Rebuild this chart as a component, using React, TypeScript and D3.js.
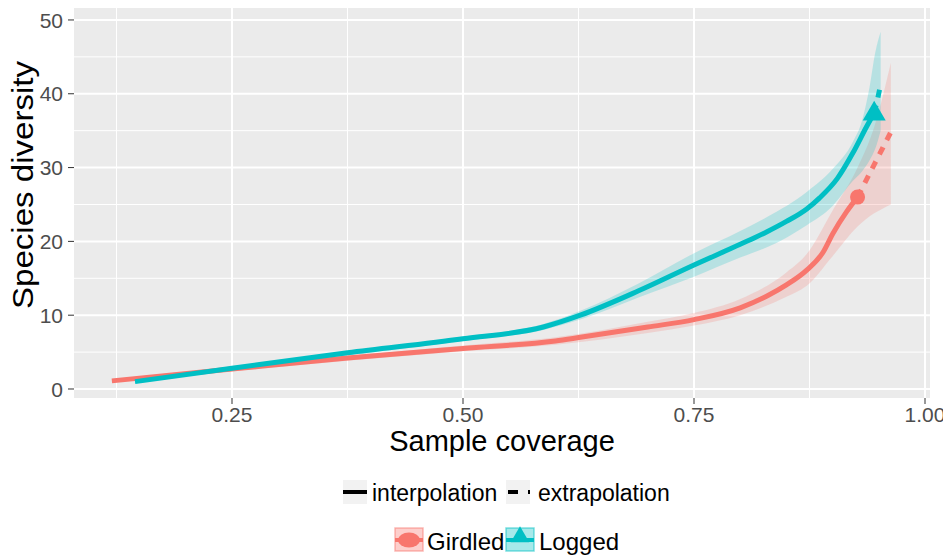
import * as d3 from "d3";
import React from "react";

// Girdled (interpolated, extrapolated, confidence band)
const girdledCov = [0.12, 0.25, 0.375, 0.5, 0.6, 0.627, 0.7, 0.75, 0.8, 0.829, 0.85, 0.872, 0.89, 0.9, 0.915, 0.927];
const girdledDiv = [1.1, 2.7, 4.2, 5.5, 6.5, 7.0, 8.4, 9.4, 11.0, 12.6, 14.1, 16.1, 18.6, 21.0, 24.0, 26.0];
const girdledExtCov = [0.927, 0.945, 0.963];
const girdledExtDiv = [26.0, 30.4, 34.8];
const girdledBandCov = [0.12, 0.25, 0.5, 0.6, 0.7, 0.75, 0.8, 0.85, 0.872, 0.9, 0.927, 0.945, 0.955, 0.963];
const girdledLow = [0.9, 2.4, 5.1, 6.0, 7.6, 8.6, 10.0, 12.5, 14.0, 18.0, 22.0, 23.8, 24.5, 25.0];
const girdledHigh = [1.3, 3.0, 5.9, 7.0, 9.1, 10.3, 12.2, 15.8, 18.3, 24.2, 30.0, 35.5, 40.0, 44.2];

// Logged
const loggedCov = [0.145, 0.25, 0.375, 0.5, 0.587, 0.627, 0.69, 0.75, 0.8, 0.829, 0.85, 0.872, 0.886, 0.905, 0.922, 0.937, 0.945];
const loggedDiv = [1.0, 2.8, 4.9, 6.8, 8.4, 10.0, 13.3, 16.8, 19.6, 21.3, 22.7, 24.4, 25.9, 28.5, 32.0, 35.6, 37.4];
const loggedExtCov = [0.945, 0.949, 0.952];
const loggedExtDiv = [37.4, 39.5, 41.3];
const loggedBandCov = [0.145, 0.25, 0.5, 0.587, 0.627, 0.69, 0.75, 0.8, 0.829, 0.872, 0.9, 0.922, 0.932, 0.94, 0.946, 0.952];
const loggedLow = [0.8, 2.6, 6.5, 8.0, 9.4, 12.4, 15.2, 17.8, 19.2, 22.2, 24.8, 28.2, 29.5, 31.0, 32.5, 35.0];
const loggedHigh = [1.2, 3.0, 7.1, 8.8, 10.6, 14.3, 18.4, 21.4, 23.3, 26.7, 29.8, 33.5, 36.4, 40.9, 45.5, 48.4];

const xMajor = [0.25, 0.5, 0.75, 1.0];
const xLabels = ["0.25", "0.50", "0.75", "1.00"];
const xMinor = [0.125, 0.375, 0.625, 0.875];
const yMajor = [0, 10, 20, 30, 40, 50];
const yMinor = [5, 15, 25, 35, 45];

const RED = "#F8766D";
const TEAL = "#00BFC4";
const FONT = "'Liberation Sans', Arial, Helvetica, sans-serif";

const zip = (xs: number[], ys: number[]) => xs.map((x, i) => [x, ys[i]] as [number, number]);

export default function App() {
  const panel = { left: 74, right: 930, top: 8, bottom: 398 };
  const x = d3.scaleLinear().domain([0.079, 1.0054]).range([panel.left, panel.right]);
  const y = d3.scaleLinear().domain([-1.22, 51.62]).range([panel.bottom, panel.top]);

  const line = d3
    .line<[number, number]>()
    .x((d) => x(d[0]))
    .y((d) => y(d[1]))
    .curve(d3.curveMonotoneX);

  const area = d3
    .area<[number, number, number]>()
    .x((d) => x(d[0]))
    .y0((d) => y(d[1]))
    .y1((d) => y(d[2]))
    .curve(d3.curveMonotoneX);

  const band = (c: number[], lo: number[], hi: number[]) =>
    c.map((v, i) => [v, lo[i], hi[i]] as [number, number, number]);

  const lastG = [girdledCov[girdledCov.length - 1], girdledDiv[girdledDiv.length - 1]];
  const lastL = [loggedCov[loggedCov.length - 1], loggedDiv[loggedDiv.length - 1]];
  const tri = d3.symbol().type(d3.symbolTriangle).size(230)();
  const triKey = d3.symbol().type(d3.symbolTriangle).size(150)();

  return (
    <svg width={943} height={559} style={{ position: "absolute", left: 0, top: 0, background: "#fff" }} fontFamily={FONT}>
      <defs>
        <clipPath id="panel">
          <rect x={panel.left} y={panel.top} width={panel.right - panel.left} height={panel.bottom - panel.top} />
        </clipPath>
      </defs>
      <rect x={panel.left} y={panel.top} width={panel.right - panel.left} height={panel.bottom - panel.top} fill="#EBEBEB" />
      {xMinor.map((v) => (
        <line key={"xm" + v} x1={x(v)} x2={x(v)} y1={panel.top} y2={panel.bottom} stroke="#fff" strokeWidth={1} />
      ))}
      {yMinor.map((v) => (
        <line key={"ym" + v} y1={y(v)} y2={y(v)} x1={panel.left} x2={panel.right} stroke="#fff" strokeWidth={1} />
      ))}
      {xMajor.map((v) => (
        <line key={"xM" + v} x1={x(v)} x2={x(v)} y1={panel.top} y2={panel.bottom} stroke="#fff" strokeWidth={2} />
      ))}
      {yMajor.map((v) => (
        <line key={"yM" + v} y1={y(v)} y2={y(v)} x1={panel.left} x2={panel.right} stroke="#fff" strokeWidth={2} />
      ))}

      <g clipPath="url(#panel)">
        <path d={area(band(girdledBandCov, girdledLow, girdledHigh)) || ""} fill={RED} fillOpacity={0.22} />
        <path d={area(band(loggedBandCov, loggedLow, loggedHigh)) || ""} fill={TEAL} fillOpacity={0.22} />
        <path d={line(zip(girdledCov, girdledDiv)) || ""} fill="none" stroke={RED} strokeWidth={5} strokeLinejoin="round" />
        <path d={line(zip(loggedCov, loggedDiv)) || ""} fill="none" stroke={TEAL} strokeWidth={5} strokeLinejoin="round" />
        <path d={line(zip(girdledExtCov, girdledExtDiv)) || ""} fill="none" stroke={RED} strokeWidth={5} strokeDasharray="8 8" />
        <path d={line(zip(loggedExtCov, loggedExtDiv)) || ""} fill="none" stroke={TEAL} strokeWidth={5} strokeDasharray="8 8" />
        <circle cx={x(lastG[0])} cy={y(lastG[1])} r={7.5} fill={RED} />
        <path d={tri || ""} transform={`translate(${x(lastL[0])},${y(lastL[1]) + 1})`} fill={TEAL} />
      </g>

      {/* y axis */}
      {yMajor.map((v) => (
        <g key={"yt" + v}>
          <line x1={panel.left - 6} x2={panel.left} y1={y(v)} y2={y(v)} stroke="#333" strokeWidth={1} />
          <text x={63} y={y(v)} dy="0.36em" textAnchor="end" fontSize={21} fill="#4D4D4D">
            {v}
          </text>
        </g>
      ))}
      {/* x axis */}
      {xMajor.map((v, i) => (
        <g key={"xt" + v}>
          <line x1={x(v)} x2={x(v)} y1={panel.bottom} y2={panel.bottom + 6} stroke="#333" strokeWidth={1} />
          <text x={x(v)} y={422} textAnchor="middle" fontSize={21} fill="#4D4D4D">
            {xLabels[i]}
          </text>
        </g>
      ))}
      <text x={502} y={451} textAnchor="middle" fontSize={29} fill="#000">
        Sample coverage
      </text>
      <text
        transform="translate(33,185) rotate(-90)"
        textAnchor="middle"
        fontSize={29}
        fill="#000"
        textLength={248}
        lengthAdjust="spacingAndGlyphs"
      >
        Species diversity
      </text>

      {/* legend: method */}
      <rect x={343} y={480} width={24} height={24} fill="#F2F2F2" />
      <line x1={343} x2={367} y1={492} y2={492} stroke="#000" strokeWidth={4} />
      <text x={372} y={501} fontSize={23} fill="#000">
        interpolation
      </text>
      <rect x={506} y={480} width={24} height={24} fill="#F2F2F2" />
      <line x1={508} x2={530} y1={492} y2={492} stroke="#000" strokeWidth={4} strokeDasharray="10 10" />
      <text x={538} y={501} fontSize={23} fill="#000">
        extrapolation
      </text>

      {/* legend: site */}
      <rect x={395} y={528} width={28} height={23} fill={RED} fillOpacity={0.35} stroke={RED} strokeOpacity={0.5} strokeWidth={1.5} />
      <line x1={395} x2={423} y1={540} y2={540} stroke={RED} strokeWidth={4} />
      <ellipse cx={409} cy={540} rx={11} ry={7.5} fill={RED} />
      <text x={427} y={550} fontSize={24} fill="#000">
        Girdled
      </text>
      <rect x={506} y={528} width={28} height={23} fill={TEAL} fillOpacity={0.35} stroke={TEAL} strokeOpacity={0.5} strokeWidth={1.5} />
      <line x1={506} x2={534} y1={540} y2={540} stroke={TEAL} strokeWidth={4} />
      <path d={triKey || ""} transform="translate(520,537)" fill={TEAL} />
      <text x={539} y={550} fontSize={24} fill="#000">
        Logged
      </text>
    </svg>
  );
}
